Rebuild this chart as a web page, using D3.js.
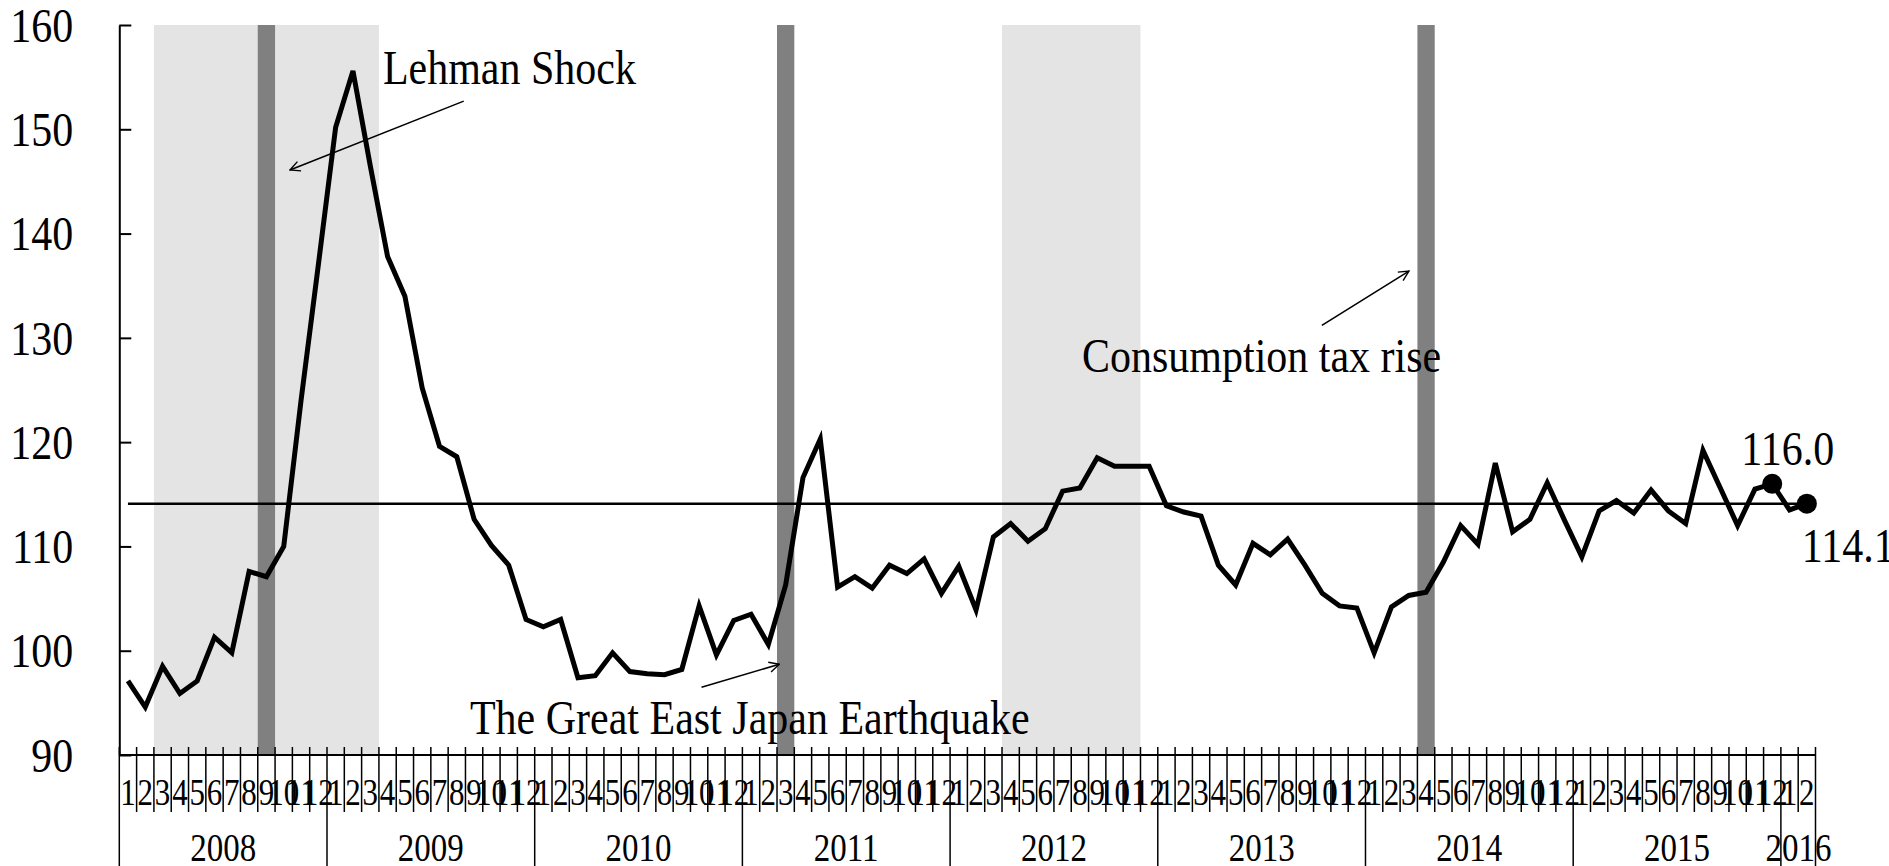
<!DOCTYPE html>
<html>
<head>
<meta charset="utf-8">
<title>Index</title>
<style>
    *{margin:0;padding:0;}
    body{background:#fff;}
    svg{display:block;}
    text{font-family:"Liberation Serif","Times New Roman",serif;fill:#000;}
</style>
</head>
<body>
<div class="container"></div>
<script src="https://cdn.jsdelivr.net/npm/d3@7/dist/d3.min.js"></script>
<script>
// monthly index, Jan 2008 - Feb 2016
var values = [
    97.1, 94.6, 98.5, 95.9, 97.1, 101.3, 99.8, 107.6, 107.1, 110.0, 124.0, 137.0,
    150.2, 155.6, 146.5, 137.8, 134.0, 125.2, 119.6, 118.6, 112.6, 110.1, 108.2, 103.0,
    102.3, 103.0, 97.4, 97.6, 99.8, 98.0, 97.8, 97.7, 98.2, 104.3, 99.6, 102.9,
    103.5, 100.6, 106.3, 116.6, 120.3, 106.1, 107.1, 106.0, 108.2, 107.4, 108.8, 105.5,
    108.1, 103.9, 110.9, 112.2, 110.5, 111.7, 115.3, 115.6, 118.5, 117.7, 117.7, 117.7,
    113.9, 113.3, 112.9, 108.2, 106.3, 110.3, 109.2, 110.7, 108.2, 105.5, 104.3, 104.1,
    99.8, 104.2, 105.3, 105.6, 108.5, 112.0, 110.2, 118.0, 111.4, 112.6, 116.1, 112.5,
    109.0, 113.4, 114.4, 113.2, 115.4, 113.4, 112.2, 119.2, 115.6, 112.0, 115.5, 116.0,
    113.5, 114.1
];
var yearLabels = ["2008", "2009", "2010", "2011", "2012", "2013", "2014", "2015", "2016"];
var monthsInYear = [12, 12, 12, 12, 12, 12, 12, 12, 2];
var monthNames = ["1", "2", "3", "4", "5", "6", "7", "8", "9", "10", "11", "12"];
var yTicks = [90, 100, 110, 120, 130, 140, 150, 160];
var recessions = [[2, 15], [51, 59]];     // month index: start, end (exclusive)
var eventMonths = [8, 38, 75];             // Sep 2008, Mar 2011, Apr 2014
var refLevel = 114.1;
var marked = [95, 97];                     // Dec 2015, Feb 2016

var width = 1889, height = 866;
var plotL = 119.3, plotR = 1815.5, plotT = 25, plotB = 755;

// month labels for every point
var monthLabels = [];
var yearStart = [];
monthsInYear.forEach(function(n){
    yearStart.push(monthLabels.length);
    for (var m = 0; m < n; m++) monthLabels.push(monthNames[m]);
});
yearStart.push(monthLabels.length);

// the source font is drawn a bit taller than normal
function stretch(sel, k){
    sel.each(function(){
        var t = d3.select(this);
        var x = +t.attr("x") || 0, yy = +t.attr("y") || 0;
        t.attr("x", 0).attr("y", 0)
         .attr("transform", "translate(" + x + "," + yy + ") scale(1," + k + ")");
    });
}

var svg = d3.select(".container")
    .append("svg")
    .attr("width", width)
    .attr("height", height);

var xb = d3.scaleBand()
    .domain(d3.range(values.length))
    .range([plotL, plotR])
    .padding(0);
var xl = d3.scaleLinear()
    .domain([0, values.length])
    .range([plotL, plotR]);
var y = d3.scaleLinear()
    .domain([90, 160])
    .range([plotB, plotT]);
var cx = function(i){ return xb(i) + xb.bandwidth() / 2; };

// shaded periods
svg.selectAll("rect.rec")
    .data(recessions)
    .enter()
    .append("rect")
    .attr("class", "rec")
    .attr("x", function(d){ return xl(d[0]); })
    .attr("width", function(d){ return xl(d[1]) - xl(d[0]); })
    .attr("y", y(160))
    .attr("height", y(90) - y(160))
    .attr("fill", "#e4e4e4");

svg.selectAll("rect.ev")
    .data(eventMonths)
    .enter()
    .append("rect")
    .attr("class", "ev")
    .attr("x", function(d){ return xb(d); })
    .attr("width", xb.bandwidth())
    .attr("y", y(160))
    .attr("height", y(90) - y(160))
    .attr("fill", "#808080");

// y axis
var yAxis = d3.axisLeft(y)
    .tickValues(yTicks)
    .tickSizeInner(-12)
    .tickSizeOuter(0)
    .tickPadding(46);
var gy = svg.append("g")
    .attr("transform", "translate(" + plotL + ",0)")
    .call(yAxis);
gy.selectAll("path, line").attr("stroke", "#000").attr("stroke-width", 2);
gy.selectAll("text").style("font-size", "42px").attr("dy", "0.34em")
    .style("font-family", '"Liberation Serif","Times New Roman",serif');
stretch(gy.selectAll("text"), 1.14);

// x axis: month labels
var xAxis = d3.axisBottom(xb)
    .tickSize(0)
    .tickFormat(function(i){ return monthLabels[i]; });
var gx = svg.append("g")
    .attr("transform", "translate(0," + plotB + ")")
    .call(xAxis);
gx.select(".domain").remove();
gx.selectAll("text")
    .attr("y", 37)
    .attr("dy", "0.34em")
    .style("font-size", "31px")
    .style("font-family", '"Liberation Serif","Times New Roman",serif');
stretch(gx.selectAll("text"), 1.22);

// month boundaries
svg.selectAll("line.mt")
    .data(d3.range(values.length + 1))
    .enter()
    .append("line")
    .attr("class", "mt")
    .attr("x1", function(d){ return xl(d); })
    .attr("x2", function(d){ return xl(d); })
    .attr("y1", plotB - 8)
    .attr("y2", function(d){ return yearStart.indexOf(d) >= 0 ? height : plotB + 57; })
    .attr("stroke", "#000")
    .attr("stroke-width", 1.5);

svg.append("line")
    .attr("x1", plotL).attr("x2", plotR)
    .attr("y1", plotB).attr("y2", plotB)
    .attr("stroke", "#000").attr("stroke-width", 2);

// year labels
var yr = svg.selectAll("text.yr")
    .data(yearLabels)
    .enter()
    .append("text")
    .attr("class", "yr")
    .attr("x", function(d, i){
        var a = xl(yearStart[i]), b = xl(yearStart[i + 1]);
        return monthsInYear[i] < 12 ? b - 17 : (a + b) / 2;
    })
    .attr("y", 848)
    .attr("dy", "0.34em")
    .attr("text-anchor", "middle")
    .style("font-size", "33px")
    .text(function(d){ return d; });
stretch(yr, 1.2);

// reference level
svg.append("line")
    .attr("x1", cx(0)).attr("x2", cx(values.length - 1))
    .attr("y1", y(refLevel)).attr("y2", y(refLevel))
    .attr("stroke", "#000").attr("stroke-width", 2.5);

// series
var line = d3.line()
    .x(function(d, i){ return cx(i); })
    .y(function(d){ return y(d); });
svg.append("path")
    .datum(values)
    .attr("d", line)
    .attr("fill", "none")
    .attr("stroke", "#000")
    .attr("stroke-width", 5)
    .attr("stroke-linejoin", "miter");

svg.selectAll("circle.pt")
    .data(marked)
    .enter()
    .append("circle")
    .attr("class", "pt")
    .attr("cx", function(d){ return cx(d); })
    .attr("cy", function(d){ return y(values[d]); })
    .attr("r", 10)
    .attr("fill", "#000");

var vl = svg.append("g");
vl.append("text")
    .attr("x", cx(95) - 31).attr("y", y(values[95]) - 19)
    .style("font-size", "42px")
    .text(values[95].toFixed(1));
vl.append("text")
    .attr("x", cx(97) - 5).attr("y", y(values[97]) + 58)
    .style("font-size", "42px")
    .text(values[97].toFixed(1));
stretch(vl.selectAll("text"), 1.15);

// annotations (month units, index values)
svg.append("defs").append("marker")
    .attr("id", "arr")
    .attr("viewBox", "0 0 12 12")
    .attr("refX", 11).attr("refY", 6)
    .attr("markerWidth", 12).attr("markerHeight", 12)
    .attr("markerUnits", "userSpaceOnUse")
    .attr("orient", "auto")
    .append("path")
    .attr("d", "M1,1 L11,6 L1,11")
    .attr("fill", "none")
    .attr("stroke", "#000")
    .attr("stroke-width", 1.4);

var notes = [
    {text: "Lehman Shock", tx: 15.23, ty: 154.3, from: [19.9, 152.7], to: [9.86, 146.1]},
    {text: "The Great East Japan Earthquake", tx: 20.26, ty: 92.0, from: [33.64, 96.5], to: [38.13, 98.7]},
    {text: "Consumption tax rise", tx: 55.62, ty: 126.7, from: [69.48, 131.2], to: [74.51, 136.4]}
];
svg.selectAll("line.arrow")
    .data(notes)
    .enter()
    .append("line")
    .attr("class", "arrow")
    .attr("x1", function(d){ return xl(d.from[0]); })
    .attr("y1", function(d){ return y(d.from[1]); })
    .attr("x2", function(d){ return xl(d.to[0]); })
    .attr("y2", function(d){ return y(d.to[1]); })
    .attr("stroke", "#000")
    .attr("stroke-width", 1.6)
    .attr("marker-end", "url(#arr)");
var nt = svg.selectAll("text.note")
    .data(notes)
    .enter()
    .append("text")
    .attr("class", "note")
    .attr("x", function(d){ return xl(d.tx); })
    .attr("y", function(d){ return y(d.ty); })
    .style("font-size", "42px")
    .text(function(d){ return d.text; });
stretch(nt, 1.15);
</script>
</body>
</html>
